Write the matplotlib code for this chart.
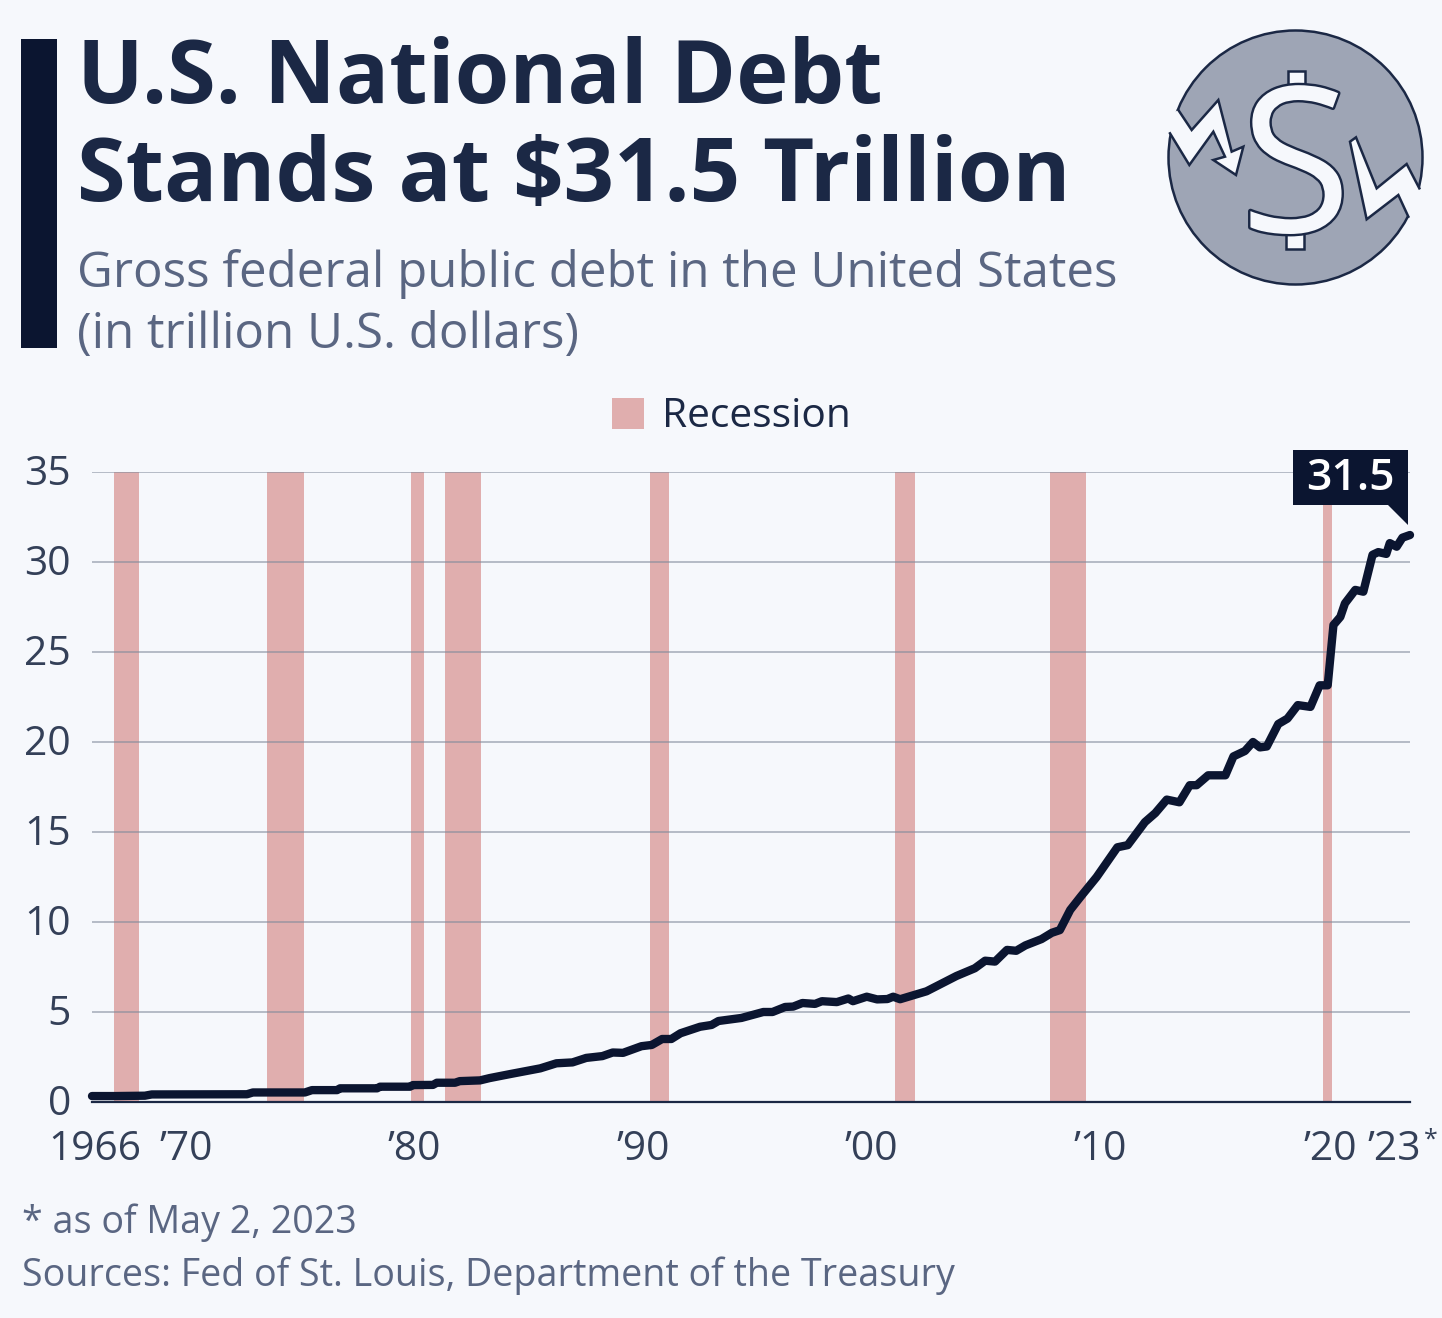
import matplotlib
matplotlib.use("Agg")
import matplotlib.pyplot as plt
import matplotlib.patheffects as pe
from matplotlib.lines import Line2D
from matplotlib.patches import Circle, Patch, Polygon, Rectangle
from matplotlib.transforms import IdentityTransform, ScaledTranslation

plt.rcParams['font.family'] = ['Open Sans', 'DejaVu Sans']

# debt curve
years = [1966.0, 1967.0, 1968.3, 1968.6, 1972.74, 1973.0, 1975.26, 1975.57, 1976.66, 1976.79,
         1978.4, 1978.53, 1979.83, 1979.96, 1980.83, 1981.0, 1981.79, 1982.0, 1982.88, 1983.3,
         1984.18, 1985.5, 1986.2, 1986.9, 1987.5, 1988.2, 1988.65, 1989.1, 1989.9, 1990.35,
         1990.8, 1991.2, 1991.6, 1992.45, 1992.95, 1993.25, 1994.25, 1995.2, 1995.6, 1996.15,
         1996.5, 1996.9, 1997.45, 1997.75, 1998.4, 1998.9, 1999.1, 1999.7, 2000.15, 2000.6,
         2000.85, 2001.15, 2002.3, 2003.6, 2004.4, 2004.85, 2005.28, 2005.8, 2006.2, 2006.6,
         2007.3, 2007.75, 2008.1, 2008.55, 2009.0, 2009.7, 2010.6, 2011.05, 2011.8, 2012.25,
         2012.75, 2013.3, 2013.75, 2014.05, 2014.55, 2015.3, 2015.65, 2016.15, 2016.5, 2016.8,
         2017.1, 2017.6, 2018.0, 2018.45, 2019.0, 2019.4, 2019.75, 2020.0, 2020.3, 2020.5,
         2020.95, 2021.3, 2021.7, 2021.95, 2022.3, 2022.45, 2022.75, 2023.0, 2023.33]
debt = [0.33, 0.33, 0.35, 0.42, 0.43, 0.53, 0.53, 0.66, 0.66, 0.76,
        0.76, 0.85, 0.85, 0.94, 0.95, 1.07, 1.07, 1.16, 1.2, 1.33,
        1.55, 1.87, 2.15, 2.2, 2.45, 2.55, 2.75, 2.73, 3.1, 3.17,
        3.5, 3.5, 3.82, 4.18, 4.28, 4.5, 4.67, 5.0, 5.0, 5.28,
        5.3, 5.5, 5.45, 5.6, 5.55, 5.75, 5.6, 5.85, 5.7, 5.72,
        5.85, 5.71, 6.15, 7.0, 7.43, 7.85, 7.8, 8.45, 8.4, 8.7,
        9.05, 9.4, 9.55, 10.67, 11.4, 12.5, 14.15, 14.27, 15.55, 16.05,
        16.8, 16.65, 17.6, 17.6, 18.15, 18.15, 19.2, 19.5, 20.0, 19.7,
        19.75, 21.0, 21.3, 22.05, 21.95, 23.15, 23.15, 26.5, 26.95, 27.7,
        28.45, 28.35, 30.4, 30.55, 30.45, 31.05, 30.85, 31.35, 31.5]

recession_start = [1966.96, 1973.6, 1979.87, 1981.35, 1990.27, 2000.93, 2007.67, 2019.55]
recession_end = [1968.04, 1975.2, 1980.45, 1982.9, 1991.1, 2001.8, 2009.23, 2019.95]

x_ticks = [1966, 1970, 1980, 1990, 2000, 2010, 2020, 2023.33]
x_labels = ['1966', '’70', '’80', '’90', '’00', '’10', '’20', '’23']
x_label_shift = [3, 2, 0, -1, -2, -3, -3, -16]  # px, labels are not quite centred on their ticks
y_ticks = [0, 5, 10, 15, 20, 25, 30, 35]

BG = '#F6F8FC'
NAVY = '#0B1530'
TITLE = '#1B2845'
GREY = '#5A6682'
AXIS_TEXT = '#344058'
PINK = '#E0AEAE'
ICON = '#9EA5B5'

W, H = 1442, 1318
fig = plt.figure(figsize=(W / 100, H / 100), dpi=100, facecolor=BG)

ax = fig.add_axes([92 / W, 1 - 1102 / H, (1410 - 92) / W, (1102 - 472) / H], facecolor=BG)
for a, b in zip(recession_start, recession_end):
    ax.axvspan(a, b, color=PINK, lw=0, zorder=1)
ax.plot(years, debt, color=NAVY, lw=6, solid_joinstyle='round', solid_capstyle='round', zorder=4, clip_on=False)
ax.set_xlim(1966, 2023.33)
ax.set_ylim(0, 35)
ax.set_yticks(y_ticks)
ax.set_xticks(x_ticks, x_labels)
ax.grid(axis='y', color='#7F899B', alpha=0.55, lw=1.4, zorder=2)
ax.set_axisbelow(False)
for s in ['top', 'left', 'right']:
    ax.spines[s].set_visible(False)
ax.spines['bottom'].set_color(TITLE)
ax.spines['bottom'].set_linewidth(1.6)
ax.spines['bottom'].set_zorder(3)
ax.tick_params(axis='both', length=0, labelsize=29.3, labelcolor=AXIS_TEXT)
ax.tick_params(axis='x', pad=20)
ax.tick_params(axis='y', pad=15)
for label, shift in zip(ax.get_xticklabels(), x_label_shift):
    label.set_transform(label.get_transform() + ScaledTranslation(shift / 100, 0, fig.dpi_scale_trans))
for label in ax.get_yticklabels():
    label.set_transform(label.get_transform() + ScaledTranslation(0, 2 / 100, fig.dpi_scale_trans))

leg = ax.legend(handles=[Patch(color=PINK, lw=0, label='Recession')], loc='center',
                bbox_to_anchor=((731.5 - 92) / (1410 - 92), 1 + 55 / 630), frameon=False,
                fontsize=29.3, labelcolor=TITLE, handlelength=0.79, handleheight=0.79, handletextpad=0.44,
                borderpad=0, borderaxespad=0)

# callout, anchored on the last point of the curve
fig.canvas.draw()
tip_x, tip_y = ax.transData.transform((years[-1], debt[-1]))
tip_x -= 2
tip_y += 10
callout = [(tip_x, tip_y), (tip_x - 20, tip_y + 20), (tip_x - 115, tip_y + 20),
           (tip_x - 115, tip_y + 75), (tip_x, tip_y + 75)]
fig.add_artist(Polygon(callout, closed=True, color=NAVY, lw=0, transform=IdentityTransform(), zorder=5))
fig.text((tip_x - 58) / W, (tip_y + 46) / H, '31.5', color='white', fontsize=32, fontweight='semibold',
         ha='center', va='center', zorder=6)

# header, footer and icon in pixel coordinates
top = fig.add_axes([0, 0, 1, 1], facecolor='none', zorder=10)
top.set_xlim(0, W)
top.set_ylim(H, 0)
top.axis('off')

top.add_patch(Rectangle((21, 39), 36, 309, color=NAVY, lw=0))
top.text(77, 103, 'U.S. National Debt', fontsize=63.6, fontweight='bold', color=TITLE, va='baseline')
top.text(77, 201, r'Stands at \$31.5 Trillion', fontsize=63.6, fontweight='bold', color=TITLE, va='baseline')
top.text(77, 287, 'Gross federal public debt in the United States', fontsize=35.5, color=GREY, va='baseline')
top.text(77, 348, '(in trillion U.S. dollars)', fontsize=35.5, color=GREY, va='baseline')
top.text(22, 1233, '* as of May 2, 2023', fontsize=27.13, color=GREY, va='baseline')
top.text(22, 1286, 'Sources: Fed of St. Louis, Department of the Treasury', fontsize=27.13, color=GREY, va='baseline')
top.text(1424, 1147, '*', fontsize=18, color=AXIS_TEXT, va='baseline')


def zoomed(points):
    return [(1150 + x / 3, 20 + y / 3) for x, y in points]


top.add_patch(Circle((1295.5, 157.5), 127, facecolor=ICON, edgecolor=TITLE, lw=1.8))
left_crack = [(85, 270), (125, 330), (205, 240), (245, 395), (280, 380), (258, 465), (190, 420),
              (225, 410), (190, 335), (118, 435), (60, 340)]
right_crack = [(808, 505), (770, 432), (680, 505), (618, 352), (600, 365), (650, 598), (745, 525), (775, 590)]
top.add_patch(Polygon(zoomed(left_crack + [(30, 300)]), closed=True, color=BG, lw=0))
top.add_patch(Polygon(zoomed(right_crack + [(840, 570)]), closed=True, color=BG, lw=0))
for crack in (left_crack, right_crack):
    px = zoomed(crack)
    top.add_line(Line2D([p[0] for p in px], [p[1] for p in px], color=TITLE, lw=1.8, solid_joinstyle='miter'))
# dollar sign: S with two short stubs, no bar through the middle
top.add_patch(Rectangle((1288, 71), 17, 22, facecolor=BG, edgecolor=TITLE, lw=1.8))
top.add_patch(Rectangle((1286, 226), 18, 23, facecolor=BG, edgecolor=TITLE, lw=1.8))
top.text(1295.7, 179, 'S', fontsize=146, fontweight='medium', color=BG, ha='center', va='center',
         path_effects=[pe.withStroke(linewidth=3.5, foreground=TITLE)])

fig.savefig('out.png', dpi=100, facecolor=BG)
